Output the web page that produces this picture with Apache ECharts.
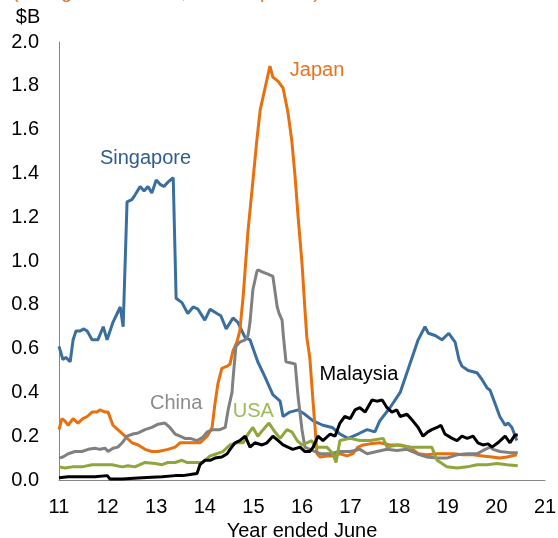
<!DOCTYPE html>
<html>
<head>
<meta charset="utf-8">
<script src="https://cdn.jsdelivr.net/npm/echarts@6/dist/echarts.min.js"></script>
<style>
html,body{margin:0;padding:0;background:#fff;}
#c{width:558px;height:538px;}
</style>
</head>
<body>
<div id="c"></div>
<script>
// ---- data (x = year ended June, y = $B) ----
const singapore = [[11.0,0.61],[11.08,0.55],[11.14,0.56],[11.23,0.54],[11.29,0.64],[11.35,0.68],[11.43,0.68],[11.51,0.69],[11.58,0.68],[11.68,0.64],[11.80,0.64],[11.91,0.70],[11.99,0.64],[12.11,0.72],[12.26,0.79],[12.32,0.70],[12.40,1.27],[12.50,1.28],[12.56,1.30],[12.67,1.34],[12.75,1.32],[12.83,1.34],[12.91,1.31],[13.00,1.37],[13.08,1.35],[13.16,1.34],[13.24,1.36],[13.35,1.38],[13.41,0.83],[13.53,0.81],[13.65,0.76],[13.76,0.79],[13.86,0.78],[14.00,0.73],[14.11,0.78],[14.25,0.76],[14.33,0.75],[14.44,0.69],[14.58,0.74],[14.68,0.72],[14.83,0.65],[14.93,0.64],[15.09,0.54],[15.24,0.47],[15.40,0.39],[15.55,0.36],[15.61,0.29],[15.75,0.31],[15.92,0.32],[16.06,0.30],[16.23,0.27],[16.43,0.25],[16.62,0.24],[16.78,0.21],[16.95,0.19],[17.15,0.21],[17.34,0.23],[17.50,0.22],[17.60,0.27],[17.81,0.33],[18.02,0.40],[18.22,0.53],[18.39,0.64],[18.53,0.70],[18.60,0.67],[18.74,0.66],[18.88,0.64],[19.02,0.67],[19.15,0.63],[19.23,0.55],[19.29,0.52],[19.42,0.50],[19.60,0.49],[19.70,0.46],[19.81,0.42],[19.87,0.41],[19.97,0.35],[20.07,0.29],[20.18,0.25],[20.24,0.26],[20.32,0.24],[20.42,0.18]];
const japan = [[11.0,0.23],[11.06,0.28],[11.12,0.27],[11.19,0.25],[11.29,0.28],[11.39,0.26],[11.49,0.28],[11.58,0.29],[11.68,0.31],[11.78,0.31],[11.84,0.32],[11.95,0.31],[12.01,0.31],[12.11,0.25],[12.21,0.23],[12.36,0.20],[12.50,0.17],[12.63,0.16],[12.77,0.14],[12.91,0.13],[13.04,0.13],[13.24,0.14],[13.39,0.15],[13.49,0.17],[13.70,0.17],[13.90,0.17],[14.05,0.20],[14.15,0.24],[14.21,0.35],[14.27,0.44],[14.35,0.51],[14.46,0.52],[14.52,0.53],[14.58,0.59],[14.66,0.63],[14.72,0.68],[14.79,0.84],[14.89,1.14],[14.97,1.32],[15.07,1.55],[15.14,1.69],[15.24,1.79],[15.34,1.89],[15.40,1.84],[15.51,1.82],[15.61,1.79],[15.71,1.68],[15.79,1.55],[15.86,1.38],[15.92,1.20],[16.00,0.99],[16.06,0.78],[16.10,0.65],[16.16,0.56],[16.23,0.35],[16.31,0.12],[16.37,0.105],[16.51,0.11],[16.64,0.11],[16.78,0.12],[16.93,0.11],[17.05,0.12],[17.15,0.15],[17.26,0.16],[17.40,0.165],[17.60,0.17],[17.81,0.16],[18.02,0.16],[18.22,0.15],[18.39,0.12],[18.57,0.115],[18.78,0.12],[18.98,0.12],[19.11,0.12],[19.31,0.115],[19.52,0.115],[19.72,0.11],[19.91,0.105],[20.07,0.10],[20.22,0.105],[20.42,0.115]];
const china = [[11.0,0.10],[11.08,0.105],[11.19,0.12],[11.33,0.13],[11.47,0.13],[11.60,0.14],[11.74,0.145],[11.84,0.14],[11.95,0.145],[12.01,0.13],[12.11,0.145],[12.21,0.15],[12.30,0.17],[12.40,0.20],[12.52,0.21],[12.63,0.215],[12.77,0.23],[12.91,0.24],[13.04,0.255],[13.18,0.26],[13.28,0.24],[13.39,0.21],[13.49,0.20],[13.59,0.19],[13.70,0.19],[13.84,0.18],[13.96,0.195],[14.05,0.22],[14.17,0.23],[14.31,0.23],[14.42,0.24],[14.48,0.32],[14.56,0.40],[14.58,0.46],[14.64,0.61],[14.72,0.63],[14.83,0.64],[14.89,0.66],[14.93,0.72],[14.99,0.87],[15.07,0.95],[15.09,0.96],[15.18,0.95],[15.30,0.94],[15.40,0.93],[15.49,0.79],[15.53,0.76],[15.59,0.73],[15.62,0.65],[15.67,0.54],[15.86,0.53],[15.92,0.38],[16.00,0.23],[16.06,0.15],[16.16,0.14],[16.37,0.12],[16.58,0.12],[16.78,0.13],[16.99,0.13],[17.19,0.14],[17.34,0.12],[17.54,0.13],[17.75,0.14],[17.95,0.135],[18.16,0.14],[18.37,0.12],[18.57,0.105],[18.78,0.10],[18.98,0.10],[19.19,0.115],[19.40,0.12],[19.60,0.12],[19.77,0.14],[19.87,0.15],[19.93,0.14],[20.07,0.13],[20.28,0.125],[20.44,0.125]];
const usa = [[11.0,0.06],[11.12,0.055],[11.27,0.06],[11.47,0.06],[11.68,0.07],[11.88,0.07],[12.09,0.07],[12.30,0.06],[12.42,0.065],[12.56,0.06],[12.77,0.08],[12.98,0.075],[13.12,0.07],[13.24,0.08],[13.39,0.08],[13.53,0.09],[13.63,0.08],[13.84,0.08],[13.96,0.08],[14.11,0.11],[14.25,0.12],[14.37,0.13],[14.52,0.16],[14.66,0.17],[14.79,0.17],[14.89,0.21],[14.99,0.24],[15.09,0.20],[15.20,0.23],[15.32,0.26],[15.44,0.22],[15.55,0.19],[15.69,0.23],[15.79,0.22],[15.90,0.18],[16.00,0.16],[16.10,0.17],[16.20,0.18],[16.27,0.15],[16.37,0.15],[16.51,0.15],[16.64,0.12],[16.70,0.08],[16.78,0.18],[16.99,0.19],[17.19,0.18],[17.40,0.18],[17.67,0.19],[17.75,0.15],[17.95,0.16],[18.22,0.15],[18.43,0.15],[18.67,0.15],[18.78,0.09],[18.98,0.06],[19.19,0.055],[19.40,0.06],[19.60,0.07],[19.81,0.07],[20.01,0.075],[20.22,0.07],[20.44,0.065]];
const malaysia = [[11.0,0.01],[11.19,0.015],[11.47,0.015],[11.74,0.015],[11.99,0.02],[12.05,0.005],[12.30,0.005],[12.71,0.01],[13.12,0.015],[13.39,0.02],[13.55,0.02],[13.70,0.025],[13.84,0.03],[13.90,0.07],[14.00,0.09],[14.11,0.09],[14.21,0.10],[14.35,0.105],[14.46,0.12],[14.52,0.14],[14.62,0.17],[14.72,0.18],[14.83,0.20],[14.93,0.15],[15.03,0.17],[15.18,0.16],[15.28,0.17],[15.40,0.20],[15.51,0.18],[15.61,0.16],[15.71,0.15],[15.81,0.14],[15.96,0.15],[16.06,0.13],[16.16,0.13],[16.23,0.15],[16.33,0.20],[16.43,0.18],[16.58,0.21],[16.68,0.20],[16.78,0.26],[16.88,0.29],[16.99,0.28],[17.09,0.32],[17.19,0.33],[17.30,0.31],[17.44,0.365],[17.54,0.36],[17.65,0.365],[17.75,0.33],[17.85,0.31],[17.95,0.32],[18.02,0.29],[18.16,0.30],[18.28,0.27],[18.39,0.24],[18.49,0.20],[18.59,0.22],[18.67,0.23],[18.78,0.24],[18.86,0.25],[18.94,0.21],[19.09,0.19],[19.19,0.18],[19.29,0.20],[19.40,0.19],[19.52,0.20],[19.62,0.17],[19.72,0.16],[19.83,0.165],[19.91,0.15],[20.03,0.17],[20.18,0.20],[20.28,0.17],[20.38,0.205],[20.44,0.205]];

const seriesNames = ['Singapore','Japan','China','USA','Malaysia'];
const lineColors = ['#3A6E9E','#E8700E','#808080','#8FA63C','#000000'];
const labelColors = ['#2E5C8E','#E8731C','#8C8C8C','#9BBB59','#000000'];
// label anchor in data units [x, y]
const labelPos = [[12.78,1.47],[16.31,1.87],[13.41,0.35],[15.0,0.315],[17.17,0.48]];
const xTicks = {min: 11, max: 21, interval: 1};
const yTicks = {min: 0, max: 2, interval: 0.2};
const unitLabel = '$B';
const subtitle = '(rolling annual sum, current prices)';
const xTitle = 'Year ended June';

const FONT = '"Liberation Sans", Arial, sans-serif';
const chart = echarts.init(document.getElementById('c'), null, {renderer: 'canvas'});
const allData = [singapore, japan, china, usa, malaysia];

chart.setOption({
  animation: false,
  backgroundColor: '#fff',
  grid: {left: 59, right: 13, top: 42, bottom: 58, containLabel: false, outerBoundsMode: 'none'},
  xAxis: {
    type: 'value', min: xTicks.min, max: xTicks.max, interval: xTicks.interval,
    axisLine: {show: true, lineStyle: {color: '#868686', width: 1}},
    axisTick: {show: false},
    splitLine: {show: false},
    axisLabel: {color: '#000', fontSize: 20, fontFamily: FONT, margin: 17},
    name: xTitle, nameLocation: 'middle', nameGap: 40,
    nameTextStyle: {color: '#000', fontSize: 20, fontFamily: FONT}
  },
  yAxis: {
    type: 'value', min: yTicks.min, max: yTicks.max, interval: yTicks.interval,
    axisLine: {show: true, lineStyle: {color: '#868686', width: 1}},
    axisTick: {show: false},
    splitLine: {show: false},
    axisLabel: {color: '#000', fontSize: 20, fontFamily: FONT, margin: 20,
      formatter: v => v.toFixed(1)}
  },
  series: seriesNames.map((n, i) => ({
    name: n, type: 'line', data: allData[i], showSymbol: false, symbol: 'none',
    lineStyle: {color: lineColors[i], width: 3}, smooth: false, z: i === 4 ? 5 : 3
  }))
});

const labels = seriesNames.map((n, i) => {
  const p = chart.convertToPixel({gridIndex: 0}, labelPos[i]);
  return {type: 'text', x: p[0], y: p[1],
    style: {text: n, fill: labelColors[i], font: '20px ' + FONT, align: 'center', verticalAlign: 'middle'}};
});
labels.push({type: 'text', x: 28, y: 17,
  style: {text: unitLabel, fill: '#000', font: '20px ' + FONT, align: 'center', verticalAlign: 'middle'}});
labels.push({type: 'text', x: 12, y: -8,
  style: {text: subtitle, fill: '#E8731C', font: '20px ' + FONT, align: 'left', verticalAlign: 'middle'}});
chart.setOption({graphic: labels});
</script>
</body>
</html>
